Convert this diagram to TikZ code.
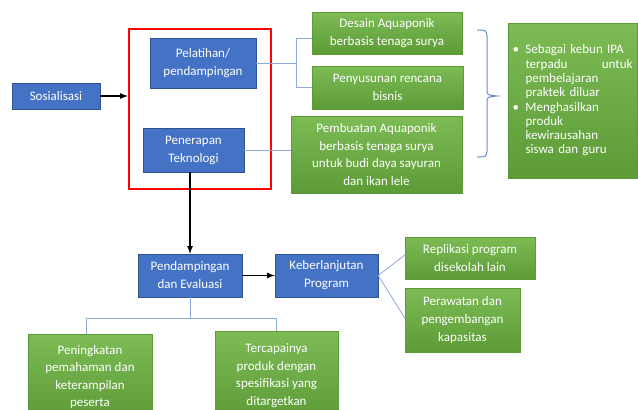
\documentclass[tikz,border=0pt]{standalone}
\usepackage{fontspec}
\setmainfont{Carlito}
\usetikzlibrary{arrows}

\definecolor{boxblue}{HTML}{4472C4}
\definecolor{boxblueline}{HTML}{2F528F}
\definecolor{greentop}{HTML}{7DBB55}
\definecolor{greenbot}{HTML}{5C9B36}
\definecolor{linkblue}{HTML}{8EA9DB}
\definecolor{bracecol}{HTML}{6A8BD0}

\begin{document}
\begin{tikzpicture}[x=1pt,y=-1pt,
  bluebox/.style={draw=boxblueline,fill=boxblue,text=white,align=center,
    inner sep=2pt,font=\fontsize{13}{18}\selectfont},
  greenbox/.style={top color=greentop,bottom color=greenbot,draw=greenbot,
    text=white,align=center,inner sep=2pt,font=\fontsize{13}{17.6}\selectfont},
  link/.style={draw=linkblue,line width=0.8pt},
  flow/.style={-latex,line width=1.6pt,black}]
  \clip (0,0) rectangle (638,410);

  % left column
  \node[bluebox,minimum width=88,minimum height=26] (sos) at (56,96) {Sosialisasi};
  \node[draw=red,line width=2.5pt,minimum width=142,minimum height=160] (frame) at (200,109) {};
  \node[bluebox,minimum width=106,minimum height=50] (pel) at (203,63) {Pelatihan/\\pendampingan};
  \node[bluebox,minimum width=101,minimum height=44] (pen) at (193.5,150) {Penerapan\\Teknologi};
  \node[bluebox,minimum width=104,minimum height=43] (pde) at (190,275.5) {Pendampingan\\dan Evaluasi};
  \node[bluebox,minimum width=103,minimum height=43] (keb) at (326.5,275.5) {Keberlanjutan\\Program};

  % green boxes
  \node[greenbox,minimum width=150,minimum height=42] (des) at (387,33) {Desain Aquaponik\\berbasis tenaga surya};
  \node[greenbox,minimum width=151,minimum height=43] (pny) at (387.5,87.5) {Penyusunan rencana\\bisnis};
  \node[greenbox,minimum width=171,minimum height=77] (pmb) at (376.5,154.5) {Pembuatan Aquaponik\\berbasis tenaga surya\\untuk budi daya sayuran\\dan ikan lele};
  \node[greenbox,minimum height=155,text width=120,inner xsep=4.5pt,align=left,
    font=\fontsize{13}{14.3}\selectfont] (hsl) at (572.5,100.5)
    {\makebox[13pt][l]{\textbullet}Sebagai kebun IPA\\
     \hspace*{13pt}terpadu\hfill untuk\\
     \hspace*{13pt}pembelajaran\\
     \hspace*{13pt}praktek diluar\\
     \makebox[13pt][l]{\textbullet}Menghasilkan\\
     \hspace*{13pt}produk\\
     \hspace*{13pt}kewirausahan\\
     \hspace*{13pt}siswa dan guru};
  \node[greenbox,minimum width=130,minimum height=42] (rep) at (470,258) {Replikasi program\\disekolah lain};
  \node[greenbox,minimum width=115,minimum height=64] (prw) at (462.5,320) {Perawatan dan\\pengembangan\\kapasitas};
  \node[greenbox,minimum width=124,minimum height=86] (pnk) at (90,377) {Peningkatan\\pemahaman dan\\keterampilan\\peserta};
  \node[greenbox,minimum width=123,minimum height=89] (ter) at (276.5,375.5) {Tercapainya\\produk dengan\\spesifikasi yang\\ditargetkan};

  % connectors
  \draw[flow] (sos.east) -- (sos.east -| frame.west);
  \draw[flow] (pde.north |- pen.south) -- (pde.north);
  \draw[flow] (pde.east) -- (keb.west);

  \draw[link] (pel.east) -- ++(40,0) coordinate (j1);
  \draw[link] ([yshift=-5pt]des.west) -| (j1) |- (pny.west);
  \draw[link] (pen.east) -- (pen.east -| pmb.west);
  \draw[draw=bracecol,line width=1pt] (477,30) .. controls (486,30) .. (487,36) -- (487,90)
    .. controls (487,95) .. (497,96) coordinate (tip) .. controls (487,97) .. (487,102)
    -- (487,151) .. controls (486,157) .. (477,157);

  \draw[link] (pde.south) -- ++(0,21) coordinate (j2);
  \draw[link] ([xshift=-4pt]pnk.north) |- (j2) -| (ter.north);
  \draw[link] (keb.east) -- ([yshift=3pt]rep.west);
  \draw[link] (keb.east) -- ([yshift=2pt]prw.west);
\end{tikzpicture}
\end{document}
